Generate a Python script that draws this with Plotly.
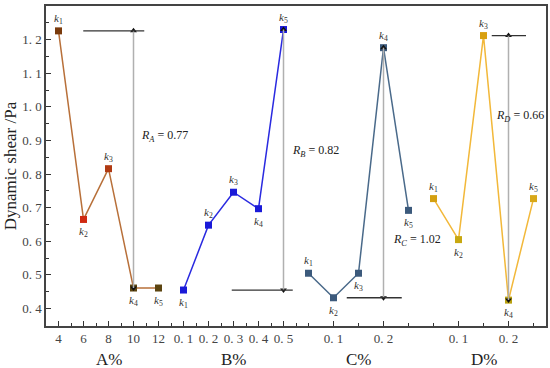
import plotly.graph_objects as go

# ---- data ----
factors = ["A", "B", "C", "D"]
a_levels = ["4", "6", "8", "10", "12"]
b_levels = ["0. 1", "0. 2", "0. 3", "0. 4", "0. 5"]
c_labels = ["0. 1", "0. 2"]
d_labels = ["0. 1", "0. 2"]

a_vals = [1.226, 0.665, 0.816, 0.461, 0.461]
b_vals = [0.455, 0.648, 0.746, 0.697, 1.230]
c_vals = [0.505, 0.432, 0.505, 1.176, 0.692]
d_vals = [0.727, 0.605, 1.212, 0.425, 0.727]
r_texts = ["0.77", "0.82", "1.02", "0.66"]

line_colors = ["#b8703a", "#2a2ae0", "#4a6a8a", "#f2b83a"]
marker_colors = [
    ["#7a3a0c", "#d02a12", "#b03a12", "#5c4410", "#5c4410"],
    ["#1a1ad8"] * 5,
    ["#3c5a7c"] * 5,
    ["#d4a010", "#c8a810", "#d8a010", "#b8a010", "#d8a818"],
]
label_pos = [
    ["up", "down", "up", "down", "down"],
    ["down", "up", "up", "down", "up"],
    ["up", "down", "down", "up", "down"],
    ["up", "down", "up", "down", "up"],
]

series = [a_vals, b_vals, c_vals, d_vals]
serif = "Liberation Serif, Times New Roman, serif"

fig = go.Figure()
shapes = []
annotations = []

for i, vals in enumerate(series):
    xs = [i * 5 + j for j in range(5)]
    fig.add_trace(go.Scatter(
        x=xs, y=vals, mode="lines+markers",
        line=dict(color=line_colors[i], width=1.5),
        marker=dict(symbol="square", size=7, color=marker_colors[i],
                    line=dict(width=0)),
        showlegend=False, hoverinfo="skip"))
    for j, (x, y) in enumerate(zip(xs, vals)):
        up = label_pos[i][j] == "up"
        annotations.append(dict(
            x=x, y=y, xref="x", yref="y", showarrow=False,
            text=f"<i>k</i><sub>{j+1}</sub>",
            font=dict(family=serif, size=11, color="#333"),
            yshift=12 if up else -13))
    # range line
    vmax, vmin = max(vals), min(vals)
    imax, imin = vals.index(vmax), vals.index(vmin)
    xv = xs[imax] if i in (1, 2) else xs[imin]
    shapes.append(dict(type="line", xref="x", yref="y", x0=xv, x1=xv,
                       y0=vmin, y1=vmax,
                       line=dict(color="#b0b0b0", width=1.5)))
    fig.add_trace(go.Scatter(
        x=[xv, xv], y=[vmax, vmin], mode="markers",
        marker=dict(symbol=["triangle-up", "triangle-down"], size=6,
                    color="#111"),
        showlegend=False, hoverinfo="skip"))

# horizontal reference lines
hl = [
    (0.99, 3.43, a_vals[0]),
    (6.93, 9.37, b_vals[0]),
    (11.53, 13.73, c_vals[1]),
    (17.33, 18.7, d_vals[2]),
]
for x0, x1, y in hl:
    shapes.append(dict(type="line", xref="x", yref="y", x0=x0, x1=x1,
                       y0=y, y1=y, line=dict(color="#333", width=1.3)))

r_pos = [(3.22, 0.914), (9.26, 0.869), (13.29, 0.604), (17.42, 0.973)]
for f, (x, y), t in zip(factors, r_pos, r_texts):
    annotations.append(dict(
        x=x, y=y, xref="x", yref="y", showarrow=False, xanchor="left",
        text=f"<i>R</i><sub><i>{f}</i></sub> = {t}",
        font=dict(family=serif, size=12, color="#222")))

for i, f in enumerate(factors):
    annotations.append(dict(
        x=i * 5 + 2, y=-0.106, xref="x", yref="paper", showarrow=False,
        yanchor="middle", text=f"{f}%",
        font=dict(family=serif, size=17, color="#222")))

tickvals = list(range(10)) + [11, 13, 16, 18]
ticktext = a_levels + b_levels + c_labels + d_labels
minor_vals = [k + 0.5 for k in range(10)] + [10, 12, 14, 15, 17, 19]

yvals = [0.4 + 0.1 * k for k in range(10)]
ytext = [f"{v:.1f}".replace(".", ". ") for v in yvals]

fig.update_layout(
    width=550, height=368,
    margin=dict(l=46, r=4, t=6, b=42, autoexpand=False),
    plot_bgcolor="white", paper_bgcolor="white",
    shapes=shapes, annotations=annotations,
    xaxis=dict(range=[-0.5, 19.5], tickmode="array", tickvals=tickvals,
               ticktext=ticktext, ticks="inside", ticklen=5, tickwidth=1.2,
               tickcolor="#333", showgrid=False, zeroline=False,
               showline=True, linecolor="#444", linewidth=1.5, mirror=True,
               tickfont=dict(family=serif, size=13, color="#444"),
               minor=dict(tickmode="array", tickvals=minor_vals,
                          ticks="inside", ticklen=3, tickwidth=1,
                          tickcolor="#333")),
    yaxis=dict(range=[0.348, 1.3], tickmode="array", tickvals=yvals,
               ticktext=ytext, ticks="inside", ticklen=5, tickwidth=1.2,
               tickcolor="#333", showgrid=False, zeroline=False,
               showline=True, linecolor="#444", linewidth=1.5, mirror=True,
               tickfont=dict(family=serif, size=13, color="#444"),
               title=dict(text="Dynamic shear /Pa", standoff=1,
                          font=dict(family=serif, size=17, color="#222")),
               minor=dict(dtick=0.05, tick0=0.35, ticks="inside", ticklen=3,
                          tickwidth=1, tickcolor="#333")),
)

fig.write_html("out.html", config={"displayModeBar": False},
               post_script="document.body.style.margin='0';"
                           "document.body.style.overflow='hidden';")
